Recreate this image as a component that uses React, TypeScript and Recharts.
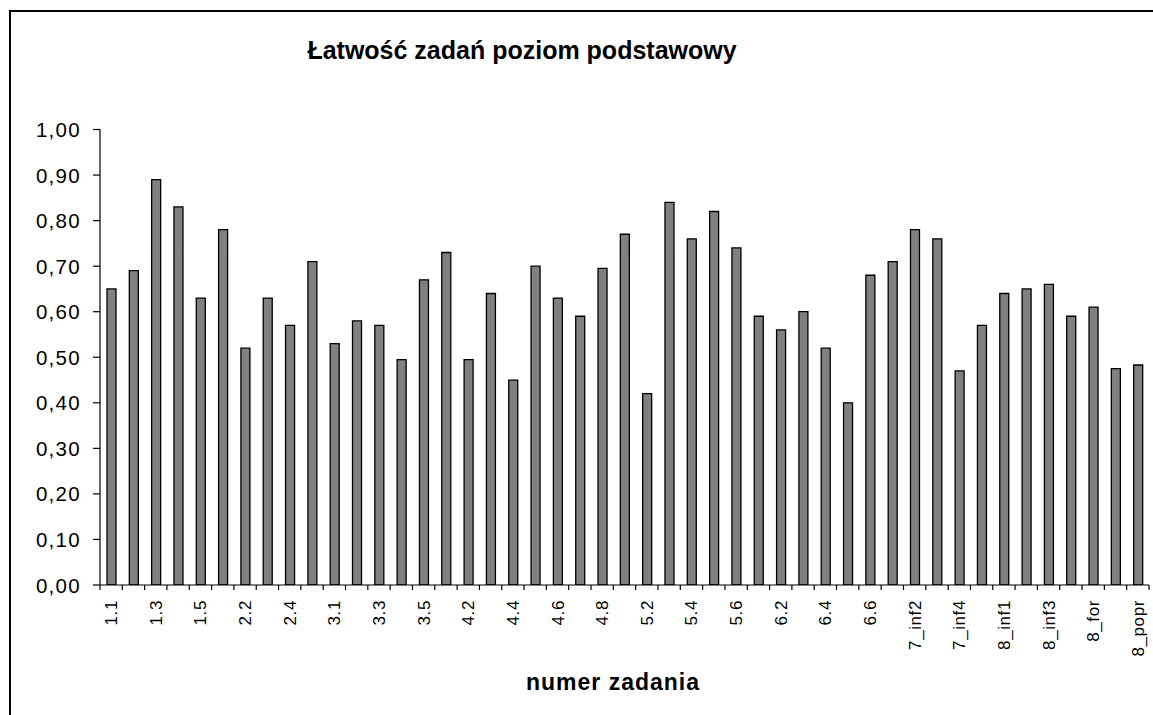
import React from 'react';
import { BarChart, Bar, XAxis, YAxis } from 'recharts';

const categories = ['1.1','1.2','1.3','1.4','1.5','2.1','2.2','2.3','2.4','2.5','3.1','3.2','3.3','3.4','3.5','4.1','4.2','4.3','4.4','4.5','4.6','4.7','4.8','5.1','5.2','5.3','5.4','5.5','5.6','6.1','6.2','6.3','6.4','6.5','6.6','7_inf1','7_inf2','7_inf3','7_inf4','7_inf5','8_inf1','8_inf2','8_inf3','8_inf4','8_for','8_sty','8_popr'];

const values = [0.65,0.69,0.89,0.83,0.63,0.78,0.52,0.63,0.57,0.71,0.53,0.58,0.57,0.495,0.67,0.73,0.495,0.64,0.45,0.70,0.63,0.59,0.695,0.77,0.42,0.84,0.76,0.82,0.74,0.59,0.56,0.60,0.52,0.40,0.68,0.71,0.78,0.76,0.47,0.57,0.64,0.65,0.66,0.59,0.61,0.475,0.483];

const yTicks = [0, 0.1, 0.2, 0.3, 0.4, 0.5, 0.6, 0.7, 0.8, 0.9, 1.0];

const titleText = 'Łatwość zadań poziom podstawowy';
const xAxisTitle = 'numer zadania';

const data = categories.map((name, i) => ({ name, value: values[i] }));

const W = 1153;
const H = 715;
const MARGIN = { top: 129.5, right: 4, bottom: 50, left: 10 };
const Y_WIDTH = 90;
const X_HEIGHT = 80;
const PLOT_LEFT = MARGIN.left + Y_WIDTH;
const PLOT_RIGHT = W - MARGIN.right;
const BW = (PLOT_RIGHT - PLOT_LEFT) / categories.length;
const FONT = '"Liberation Sans", Arial, sans-serif';

function XTick(props: any) {
  const { x, y, payload } = props;
  const idx = payload && payload.index != null ? payload.index : props.index;
  const last = idx === categories.length - 1;
  return (
    <g>
      <line x1={x - BW / 2} x2={x - BW / 2} y1={y} y2={y + 5} stroke="#000" strokeWidth={1.2} />
      {last && <line x1={x + BW / 2} x2={x + BW / 2} y1={y} y2={y + 5} stroke="#000" strokeWidth={1.2} />}
      {idx % 2 === 0 && (
        <text
          transform={`translate(${x + 6},${y + 15}) rotate(-90)`}
          textAnchor="end"
          fontSize={17}
          fontFamily={FONT}
          fill="#000"
          style={{ letterSpacing: '0.6px' }}
        >
          {payload.value}
        </text>
      )}
    </g>
  );
}

function YTick(props: any) {
  const { x, y, payload } = props;
  return (
    <text
      x={x + 1}
      y={y}
      textAnchor="end"
      dominantBaseline="central"
      fontSize={20.5}
      fontFamily={FONT}
      fill="#000"
      style={{ letterSpacing: '1.3px' }}
    >
      {Number(payload.value).toFixed(2).replace('.', ',')}
    </text>
  );
}

export default function App() {
  return (
    <div style={{ position: 'fixed', left: 0, top: 0, width: W, height: H, overflow: 'hidden', background: '#fff' }}>
      <BarChart width={W} height={H} data={data} margin={MARGIN} barCategoryGap={0}>
        <XAxis
          dataKey="name"
          interval={0}
          height={X_HEIGHT}
          tickLine={false}
          tickSize={0}
          tickMargin={0}
          axisLine={{ stroke: '#000', strokeWidth: 1.2 }}
          tick={<XTick />}
        />
        <YAxis
          domain={[0, 1]}
          ticks={yTicks}
          width={Y_WIDTH}
          tickSize={7}
          tickMargin={13}
          axisLine={{ stroke: '#000', strokeWidth: 1.2 }}
          tickLine={{ stroke: '#000', strokeWidth: 1.2 }}
          tick={<YTick />}
          allowDataOverflow
        />
        <Bar dataKey="value" fill="#808080" stroke="#000" strokeWidth={1.3} barSize={9} isAnimationActive={false} />
      </BarChart>
      <svg width={W} height={H} style={{ position: 'absolute', left: 0, top: 0, pointerEvents: 'none' }}>
        <line x1={10} x2={W} y1={11} y2={11} stroke="#000" strokeWidth={2} />
        <line x1={10} x2={10} y1={10} y2={H} stroke="#000" strokeWidth={2} />
        <text x={522} y={59} textAnchor="middle" fontSize={25} fontWeight="bold" fontFamily={FONT} fill="#000">
          {titleText}
        </text>
        <text x={613} y={690} textAnchor="middle" fontSize={23} fontWeight="bold" fontFamily={FONT} fill="#000" style={{ letterSpacing: '1px' }}>
          {xAxisTitle}
        </text>
      </svg>
    </div>
  );
}
